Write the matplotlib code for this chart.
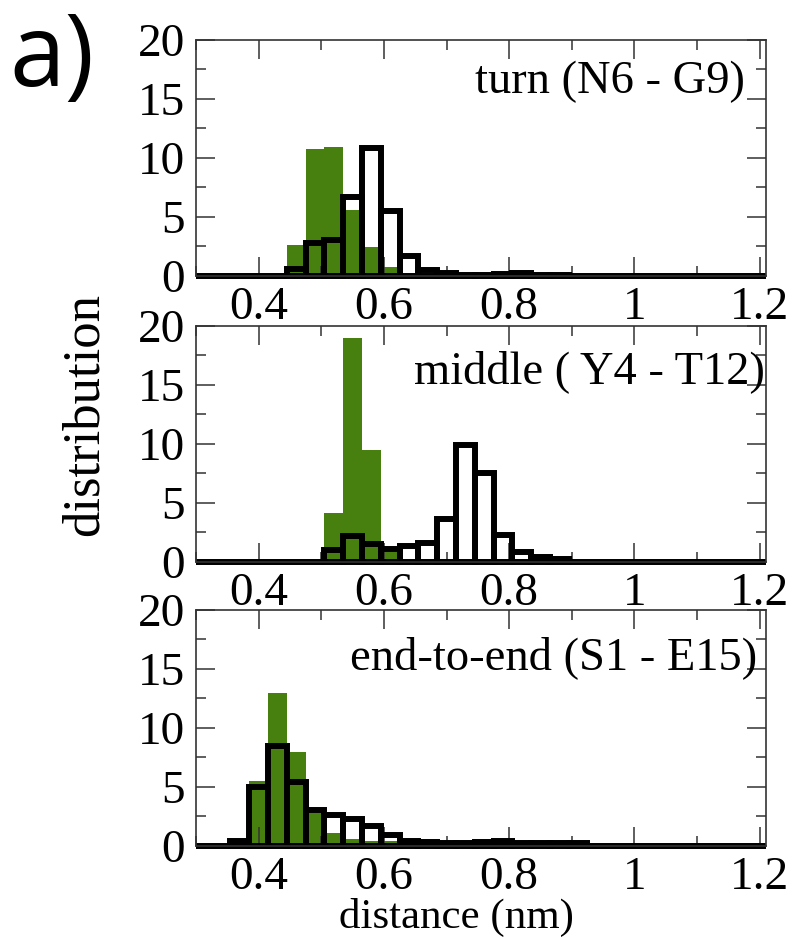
import numpy as np
import matplotlib
matplotlib.use("Agg")
import matplotlib.pyplot as plt
from matplotlib.patches import Rectangle
from matplotlib.ticker import MultipleLocator

# bin centres (nm), bin width 0.03
centers = [0.31, 0.34, 0.37, 0.40, 0.43, 0.46, 0.49, 0.52, 0.55, 0.58, 0.61,
           0.64, 0.67, 0.70, 0.73, 0.76, 0.79, 0.82, 0.85, 0.88, 0.91, 0.94,
           0.97, 1.00, 1.03, 1.06, 1.09, 1.12, 1.15, 1.18, 1.21]

# turn (N6 - G9)
turn_green = [0, 0, 0, 0, 0, 2.6, 10.7, 10.9, 5.55, 2.45, 0.75,
              0.1, 0, 0, 0, 0, 0, 0, 0, 0, 0, 0,
              0, 0, 0, 0, 0, 0, 0, 0, 0]
turn_black = [0, 0, 0, 0, 0, 0.6, 2.8, 3.0, 6.65, 10.8, 5.5,
              1.65, 0.5, 0.2, 0.1, 0.05, 0.15, 0.25, 0.1, 0.05, 0, 0,
              0, 0, 0, 0, 0, 0, 0, 0, 0]

# middle (Y4 - T12)
mid_green = [0, 0, 0, 0, 0, 0, 0, 4.1, 19.0, 9.45, 0.85,
             0, 0, 0, 0, 0, 0, 0, 0, 0, 0, 0,
             0, 0, 0, 0, 0, 0, 0, 0, 0]
mid_black = [0, 0, 0, 0, 0, 0, 0, 0.95, 2.2, 1.5, 1.05,
             1.35, 1.55, 3.65, 9.9, 7.5, 2.25, 0.8, 0.4, 0.25, 0, 0,
             0, 0, 0, 0, 0, 0, 0, 0, 0]

# end-to-end (S1 - E15)
end_green = [0, 0, 0.2, 5.45, 12.95, 7.95, 2.8, 1.05, 0.55, 0.4, 0.35,
             0.2, 0, 0, 0, 0, 0, 0, 0, 0, 0, 0,
             0, 0, 0, 0, 0, 0, 0, 0, 0]
end_black = [0, 0, 0.4, 4.97, 8.45, 5.35, 3.0, 2.6, 2.25, 1.63, 0.9,
             0.36, 0.3, 0.25, 0.25, 0.3, 0.4, 0.2, 0.2, 0.2, 0.2, 0,
             0, 0, 0, 0, 0, 0, 0, 0, 0]

panels = [
    ("turn (N6 - G9)", turn_green, turn_black),
    ("middle ( Y4 - T12)", mid_green, mid_black),
    ("end-to-end (S1 - E15)", end_green, end_black),
]

serif = "Liberation Serif"
green = "#488010"
width = 0.03

fig = plt.figure(figsize=(7.99, 9.38), dpi=100)
left, w = 196 / 799, 570 / 799
bottoms = [1 - 275.7 / 938, 1 - 561.7 / 938, 1 - 845.6 / 938]
h = 236 / 938
label_pos = [(0.963, 0.775), (0.998, 0.758), (0.984, 0.75)]

for (title, g, b), bot, (tx, ty) in zip(panels, bottoms, label_pos):
    ax = fig.add_axes([left, bot, w, h])
    ax.bar(centers, g, width=width, color=green, linewidth=0, zorder=1)
    bars = ax.bar(centers, b, width=width, facecolor="none",
                  edgecolor="black", linewidth=4.3, zorder=2)
    # let the thick outline show below the zero line too
    clip = Rectangle((0, -0.03), 1, 1.06, transform=ax.transAxes)
    for p in bars:
        p.set_clip_path(clip)
    ax.set_xlim(0.30, 1.21)
    ax.set_ylim(0, 20)
    ax.xaxis.set_minor_locator(MultipleLocator(0.1))
    ax.yaxis.set_major_locator(MultipleLocator(5))
    ax.yaxis.set_minor_locator(MultipleLocator(2.5))
    ax.set_xticks([0.4, 0.6, 0.8, 1.0, 1.2])
    ax.set_xticklabels(["0.4", "0.6", "0.8", "1", "1.2"])
    ax.tick_params(which="both", direction="in", top=True, right=True,
                   width=1.1, color="#333333")
    ax.tick_params(which="major", length=13.5, labelsize=34, pad=8)
    ax.tick_params(which="minor", length=7)
    for lab in ax.get_xticklabels() + ax.get_yticklabels():
        lab.set_fontfamily(serif)
    for s in ax.spines.values():
        s.set_linewidth(1.2)
        s.set_color("#333333")
    ax.text(tx, ty, title, transform=ax.transAxes, ha="right", va="baseline",
            fontsize=33.5, family=serif)

fig.text(85 / 799, 1 - 414 / 938, "distribution", rotation=90, ha="center",
         va="center", fontsize=38, family=serif)
fig.text(456 / 799, 1 - 928 / 938, "distance (nm)", ha="center",
         va="baseline", fontsize=31, family=serif)
fig.text(0.012, 1 - 86 / 938, "a)", ha="left", va="baseline", fontsize=72,
         family="Open Sans")

fig.savefig("out.png", dpi=100)
